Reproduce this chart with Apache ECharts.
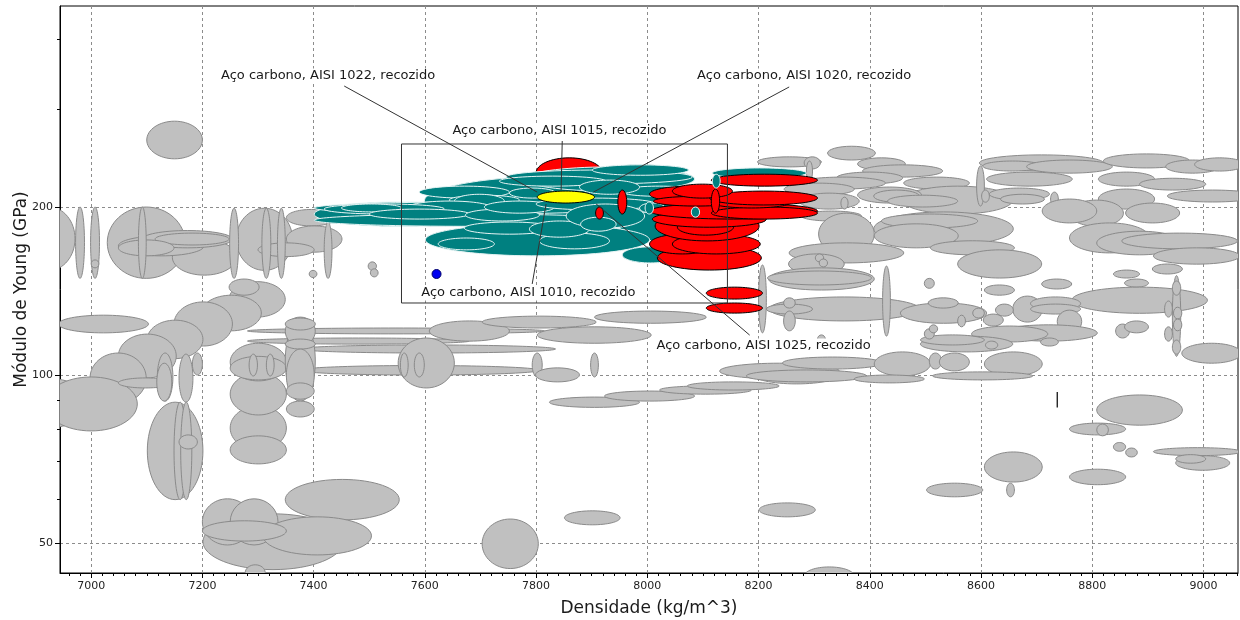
<!DOCTYPE html>
<html><head><meta charset="utf-8">
<script src="https://cdn.jsdelivr.net/npm/echarts@6.0.0/dist/echarts.min.js"></script>
<style>html,body{margin:0;padding:0;background:#fff}#c{width:1240px;height:620px}</style>
</head><body><div id="c"></div><script>
// ---------- axes ----------
const xRange = [6944, 9062];          // kg/m^3
const yRange = [44.18, 458.4];        // GPa (log)
const xTickValues = [7000,7200,7400,7600,7800,8000,8200,8400,8600,8800,9000];
const yTickValues = [50,100,200];
const yMinorTickValues = [60,70,80,90,300,400];
const xMinorStep = 20;

// ---------- bubbles: [densMin, densMax, EMin, EMax] ----------
const grayBubbles = [
[7100,7200,244,285],
[6878,6971,154,200],[6972,6988,149,200],[6999,7015,149,200],[7000,7014,155.6,160.8],
[7029,7169,149,200],[7146,7261,151,175],[7049,7203,163.5,177.5],[7092,7254,169,181.5],
[7115,7248,171,179.6],[7049,7149,163.5,174.6],[7085,7099,149,200],
[7351,7441,185,198],[7261,7362,154,199],[7351,7451,166,185],[7300,7401,163,172.5],
[7249,7265,149,199],[7307,7323,149,199],[7335,7349,149,199],[7419,7433,149,188],[7392,7406,149.5,154],
[7248,7349,127,147],[7248,7302,139,148.6],[7198,7306,120,139],[7149,7254,112.7,135.2],
[7101,7201,107,125.4],[7049,7153,98.8,118.4],[6998,7099,89,109.5],[6831,7000,80.3,98.8],
[6917,7083,79.4,99.2],[6941,7103,119,128],[7049,7146,94.8,98.8],[7119,7147,89.8,109.5],
[7118,7145,89.8,105],[7158,7183,89.4,109],[7182,7200,100,109.5],
[7101,7201,59.8,89.4],[7149,7171,59.8,89.4],[7161,7181,59.8,89.4],[7158,7191,73.7,78.1],
[7250,7351,73.4,88],[7250,7351,69.3,77.8],[7250,7351,84.8,100.8],[7250,7351,97.6,114],
[7250,7351,98,108],[7284,7299,99.6,109],[7315,7329,99.6,109],
[7281,7815,118.5,121.4],[7281,7680,113.6,116.5],[7374,7835,109.5,113.2],[7374,7806,100,104],
[7349,7403,89.8,125],[7349,7403,113,127],[7349,7403,120.4,126.5],[7349,7403,111.3,116],
[7351,7401,89.8,111.3],[7351,7401,90.5,96.8],[7351,7401,84.1,89.8],
[7552,7653,94.8,116.5],[7556,7570,99.2,109.5],[7581,7599,99.2,109.5],[7608,7752,115,125],
[7703,7908,121.4,127.5],[7905,8106,123.8,130.2],[7802,8007,114,122],[7793,7811,99.2,109.5],
[7799,7878,97.2,103],[7898,7912,99.2,109.5],[7824,7986,87.5,91.3],[7923,8085,89.8,93.6],
[8022,8187,92.4,95.6],[8072,8237,94,97.2],[8189,8347,96.4,104.5],
[7498,7513,154,159.5],[7502,7516,149.9,155],
[7349,7554,55,65],[7201,7453,44.8,56.4],[7200,7290,49.6,60],[7250,7336,49.6,60],
[7309,7504,47.6,55.7],[7200,7351,50.4,54.8],[7277,7313,42.8,45.7],
[7703,7804,45,55.2],[7851,7951,53.9,57.1],[8201,8302,55.7,59],[8282,8372,42,45.3],
[8502,8603,60.5,64],[8606,8710,64.3,72.8],[8646,8660,60.5,64],[8759,8860,63.6,67.8],
[8838,8860,73,75.7],[8860,8881,71.3,74],[8950,9047,67.5,71.7],[8910,9068,71.7,74.1],
[8950,9004,69.5,72],[8808,8962,81.3,92.1],[8759,8860,78.1,82],[8808,8829,77.8,81.7],
[8324,8410,242.8,257],[8198,8313,236,246],[8282,8311,234,246],[8378,8464,233,245],
[8387,8531,226.3,238],[8340,8459,220,231],[8273,8428,215.4,226.3],[8461,8579,215.4,226.3],
[8246,8372,210,220.7],[8273,8381,198.3,211.8],[8277,8385,188.8,196.7],[8459,8657,194.3,218],
[8378,8493,203.3,217.2],[8407,8489,204,214.5],[8432,8558,200,210],[8286,8297,222.6,241.8],
[8348,8361,198.3,208.3],[8592,8606,200.8,237],[8601,8615,204,214.5],
[8597,8820,232,248],[8603,8710,232,241.8],[8682,8836,230,242.8],[8820,8975,235,249],
[8932,9029,230,242.8],[8984,9074,232,245],[8610,8764,218,231],[8811,8912,218,231],
[8885,9004,214.5,225.2],[8935,9097,204.2,214.5],[8615,8723,205.8,216.3],[8635,8714,202.5,210.8],
[8725,8739,200.8,212.7],[8811,8912,198.3,215.4],[8759,8856,184.7,205.8],[8710,8808,187.3,206.7],
[8860,8957,187.3,203.3],
[8407,8658,170.5,196],[8308,8408,164.2,195],[8421,8594,183.4,194.3],[8408,8559,169,186.6],
[8509,8660,164.2,174],[8255,8461,158.8,172.5],[8558,8709,149.2,167.6],[8759,8903,165.5,187.3],
[8808,8962,164.2,181],[8853,9061,168.3,179.6],[8910,9065,158,169],
[8254,8354,151.7,164.8],[8218,8408,142,155.6],[8216,8403,145,153.6],[8302,8317,159.5,164.8],
[8309,8324,156.2,161.4],[8908,8962,151.7,158.1],[8838,8885,149.2,154.2],[8858,8901,143.7,148.6],
[8709,8763,142.6,148.6],[8606,8660,139,145],[8498,8516,143,149],
[8219,8489,125,138],[8455,8610,123.8,134.6],[8505,8559,131.8,137.5],[8763,9007,129,143.7],
[8214,8297,128.6,134],[8245,8266,131.8,137.5],[8245,8266,120,130.2],[8585,8606,126.5,131.8],
[8558,8572,122,128],[8657,8710,124.4,138.5],[8626,8658,127.5,134],[8604,8640,122.4,128.6],
[8689,8779,130.7,138],[8689,8779,128.6,134],[8737,8781,119,130.7],[8633,8809,115,123],
[8583,8720,114.6,122.4],[8491,8657,110,117.4],[8491,8606,113.2,118],[8608,8630,111.3,115],
[8707,8739,112.7,116.5],[8498,8516,116,121],[8507,8522,119,123],[8306,8320,114,118],
[8842,8867,116.5,123.4],[8858,8901,119,125],[8961,9068,105,114],
[8130,8345,98.4,105],[8243,8423,102.5,107.7],[8178,8394,97.2,102.1],[8408,8509,99.6,110],
[8606,8710,99.6,110],[8507,8529,102.5,109.5],[8525,8579,101.7,109.5],[8513,8693,98,101.3],
[8372,8498,96.8,100],
[8423,8437,117.4,156.8],[8200,8214,119,157.5],[8944,8959,108,150.7],[8944,8959,139,147.4],
[8930,8944,127,135.7],[8946,8961,126,132.3],[8946,8961,120,126],[8930,8944,115,122],
[8944,8959,109,115.5]
];
const redBehindTeal = [[7800,7919,216.3,245]];
const tealBubbles = [
[7599,8085,184.7,227.2],[7779,8085,213.6,236],[7401,7707,184.7,204.2],[7950,8094,173.9,196.7],
[7601,8004,163.5,186.6],[7955,8056,158.8,169.7],[7624,7725,167.6,176],[7806,7932,168.3,179.6],
[7401,7959,194.3,204.2],[7401,7959,184.7,194.3],[7671,7833,178.8,188],[7788,7896,176.6,188.8],
[7746,8081,220,233],[7901,8074,228,238],[8117,8286,225.2,235],[7734,7925,218,227.2],
[7590,7752,207.5,218],[7950,8094,209,218],[7878,7986,210.8,223.5],[7752,7835,207.5,216.3],
[7644,7770,201.7,210],[7653,7743,199,210.8],[7567,7721,193.5,205],[7419,7635,194.3,202.5],
[7450,7558,196,202.5],[7500,7680,190.3,198.3],[7673,7806,188.8,198.3],[7707,7833,195,205],
[7800,8016,197.6,207.5],[7854,7995,183.4,202.5],[7880,7944,181,191.8],[7986,8032,195,203.3]
];
const redBubbles = [
[8018,8205,154.2,170.5],[8004,8122,164.8,178.8],[8045,8203,164.8,178.8],[8014,8201,173.9,196.7],
[8054,8155,178.1,190.3],[8009,8214,184,196.7],[8004,8306,190.3,203.3],[8115,8306,190.3,200],
[8004,8151,204.2,218],[8011,8166,200.8,209],[8115,8259,199.2,209],[8112,8306,201.7,213.6],
[8045,8153,207.5,219.8],[8115,8306,218,229],[8115,8130,195,215.4],
[8106,8207,136.8,143.7],[8106,8207,129.1,134.6],[7947,7963,194.3,214.5],[7907,7921,190.3,200]
];
const yellowBubbles = [[7802,7905,203.3,213.6]];
const tealOnTop = [[7996,8011,194.3,204.2],[8079,8094,191.8,200],[8117,8131,216.3,229]];
const bluePoint = [[7621,151.7]];
const lineMarks = [[8737,87.5,93.2]];            // [dens, EMin, EMax]
const selectionBox = [[7558,8144,134.6,259.4]];   // [densMin, densMax, EMin, EMax]

// ---------- annotations ----------
const annotLabels = ['Aço carbono, AISI 1022, recozido','Aço carbono, AISI 1020, recozido',
  'Aço carbono, AISI 1015, recozido','Aço carbono, AISI 1010, recozido','Aço carbono, AISI 1025, recozido'];
const annotTextAt = [[7426,343.4],[8282,343.4],[7842,273.6],[7786,140.2],[8209,112.7]];
const annotFrom   = [[7455,329.5],[8255,328.2],[7847,262.6],[7793,145.6],[8184,117.9]];
const annotTo     = [[7802,212.7],[7903,212.7],[7845,214.5],[7818,202.5],[7908,202.5]];

const FONT = '"DejaVu Sans", Verdana, sans-serif';

const xMinor = [];
for (let v = Math.ceil(xRange[0]/xMinorStep)*xMinorStep; v <= xRange[1]; v += xMinorStep) xMinor.push(v);

function bubbleSeries(name, data, fill, stroke, lw) {
  return {
    type: 'custom', name, data, clip: true, silent: true,
    encode: { x: [0, 1], y: [2, 3] },
    renderItem: function (params, api) {
      const a = api.coord([api.value(0), api.value(3)]);
      const b = api.coord([api.value(1), api.value(2)]);
      return {
        type: 'ellipse',
        shape: { cx: (a[0]+b[0])/2, cy: (a[1]+b[1])/2, rx: Math.abs(b[0]-a[0])/2, ry: Math.abs(b[1]-a[1])/2 },
        style: { fill: fill, stroke: stroke, lineWidth: lw }
      };
    }
  };
}

const annotData = annotLabels.map((t, i) => [annotTextAt[i][0], annotTextAt[i][1], annotFrom[i][0], annotFrom[i][1], annotTo[i][0], annotTo[i][1]]);

const option = {
  animation: false,
  backgroundColor: '#fff',
  grid: { left: 60, right: 2, top: 6, bottom: 47, containLabel: false, outerBoundsMode: 'none',
    show: true, borderColor: '#000', borderWidth: 1, backgroundColor: '#fff' },
  xAxis: [{
    type: 'value', min: xRange[0], max: xRange[1],
    name: 'Densidade (kg/m^3)', nameLocation: 'middle', nameGap: 27,
    nameTextStyle: { fontSize: 17, color: '#1a1a1a', fontFamily: FONT },
    axisLine: { show: true, onZero: false, lineStyle: { color: '#000' } },
    axisTick: { show: true, customValues: xTickValues, length: 5, lineStyle: { color: '#000' } },
    axisLabel: { customValues: xTickValues, fontSize: 11, color: '#222', margin: 8, fontFamily: FONT,
      formatter: v => String(Math.round(v)) },
    splitLine: { show: true, lineStyle: { color: '#8c8c8c', type: [3, 3], width: 1 } }
  }, {
    type: 'value', min: xRange[0], max: xRange[1], position: 'bottom',
    axisLine: { show: false }, axisLabel: { show: false }, splitLine: { show: false },
    axisTick: { show: true, customValues: xMinor, length: 3, lineStyle: { color: '#000' } }
  }],
  yAxis: [{
    type: 'log', logBase: 10, min: yRange[0], max: yRange[1],
    name: 'Módulo de Young (GPa)', nameLocation: 'middle', nameGap: 30, nameMoveOverlap: false,
    nameTextStyle: { fontSize: 17, color: '#1a1a1a', fontFamily: FONT },
    axisLine: { show: true, onZero: false, lineStyle: { color: '#000' } },
    axisTick: { show: true, customValues: yTickValues, length: 5, lineStyle: { color: '#000' } },
    axisLabel: { customValues: yTickValues, fontSize: 11, color: '#222', margin: 7, fontFamily: FONT,
      formatter: v => String(Math.round(v)) },
    splitLine: { show: true, lineStyle: { color: '#8c8c8c', type: [3, 3], width: 1 } }
  }, {
    type: 'log', logBase: 10, min: yRange[0], max: yRange[1], position: 'left',
    axisLine: { show: false }, axisLabel: { show: false }, splitLine: { show: false },
    axisTick: { show: true, customValues: yMinorTickValues, length: 3, lineStyle: { color: '#000' } }
  }],
  series: [
    bubbleSeries('gray', grayBubbles, '#c0c0c0', '#8a8a8a', 1),
    { type: 'scatter', data: bluePoint, symbolSize: 9, silent: true,
      itemStyle: { color: '#0000f0', borderColor: '#00006a', borderWidth: 1, opacity: 1 } },
    bubbleSeries('redBack', redBehindTeal, '#ff0000', '#000', 1),
    bubbleSeries('teal', tealBubbles, '#008080', '#e6f4f4', 1),
    bubbleSeries('red', redBubbles, '#ff0000', '#000', 1),
    bubbleSeries('yellow', yellowBubbles, '#ffff00', '#000', 1),
    bubbleSeries('tealTop', tealOnTop, '#008080', '#e6f4f4', 1),
    { type: 'custom', data: lineMarks, silent: true, encode: { x: 0, y: [1, 2] },
      renderItem: function (params, api) {
        const a = api.coord([api.value(0), api.value(1)]);
        const b = api.coord([api.value(0), api.value(2)]);
        return { type: 'line', shape: { x1: a[0], y1: a[1], x2: b[0], y2: b[1] }, style: { stroke: '#000', lineWidth: 1.2 } };
      } },
    { type: 'custom', data: selectionBox, silent: true, encode: { x: [0, 1], y: [2, 3] },
      renderItem: function (params, api) {
        const a = api.coord([api.value(0), api.value(3)]);
        const b = api.coord([api.value(1), api.value(2)]);
        return { type: 'rect', shape: { x: a[0], y: a[1], width: b[0]-a[0], height: b[1]-a[1] },
          style: { fill: null, stroke: '#333', lineWidth: 1 } };
      } },
    { type: 'custom', data: annotData, silent: true, encode: { x: [0, 2, 4], y: [1, 3, 5] },
      renderItem: function (params, api) {
        const t = api.coord([api.value(0), api.value(1)]);
        const f = api.coord([api.value(2), api.value(3)]);
        const e = api.coord([api.value(4), api.value(5)]);
        return { type: 'group', children: [
          { type: 'line', shape: { x1: f[0], y1: f[1], x2: e[0], y2: e[1] }, style: { stroke: '#333', lineWidth: 1 } },
          { type: 'text', x: t[0], y: t[1], style: { text: annotLabels[params.dataIndex], fill: '#1a1a1a',
            font: '13px ' + FONT, align: 'center', verticalAlign: 'middle', backgroundColor: '#fff', padding: [1, 2] } }
        ] };
      } }
  ]
};
const chart = echarts.init(document.getElementById('c'), null, { renderer: 'canvas' });
chart.setOption(option);
</script></body></html>
